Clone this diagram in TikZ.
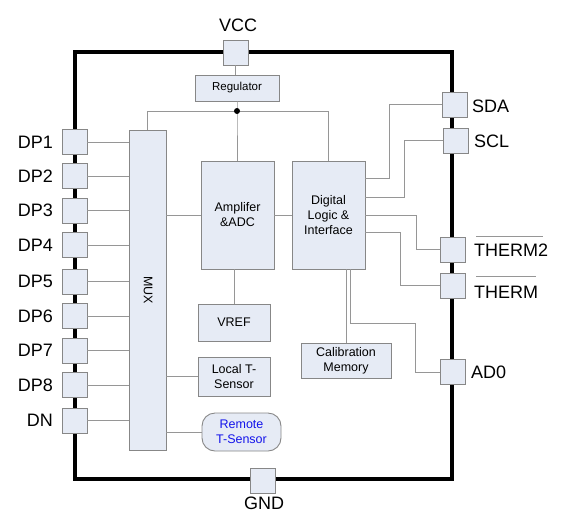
\documentclass[tikz,border=0pt]{standalone}
\usepackage{fontspec}
\setmainfont{Liberation Sans}
\definecolor{boxfill}{RGB}{230,235,245}
\definecolor{boxdraw}{RGB}{135,135,135}
\definecolor{wirec}{RGB}{150,150,150}
\definecolor{remblue}{RGB}{20,20,235}
\begin{document}
\begin{tikzpicture}[x=1pt,y=-1pt,
  pad/.style={draw=boxdraw,fill=boxfill,line width=0.9pt,minimum size=25pt,inner sep=0pt},
  blk/.style={draw=boxdraw,fill=boxfill,line width=0.9pt,inner sep=0pt,align=center,font=\fontsize{12.5}{15}\selectfont},
  wire/.style={draw=wirec,line width=1pt},
  lbl/.style={font=\fontsize{18}{20}\selectfont,inner sep=0pt},
  frame/.style={line width=3.2pt,black}]
\useasboundingbox (0,0) rectangle (561,523);
% frame
\draw[frame] (75,52) rectangle (452,479);
% blocks
\node[blk,minimum width=84pt,minimum height=26pt,font=\fontsize{11.5}{14}\selectfont] (reg) at (237,88) {Regulator};
\node[blk,minimum width=37pt,minimum height=320pt] (mux) at (147.5,290) {};
\node[rotate=-90,font=\fontsize{12.5}{15}\selectfont,inner sep=0pt] (muxt) at (148,290) {MUX};
\node[blk,minimum width=73pt,minimum height=108pt] (amp) at (237.5,215) {Amplifer\\\&ADC};
\node[blk,minimum width=73pt,minimum height=108pt] (dig) at (328.5,215) {Digital\\Logic \&\\Interface};
\node[blk,minimum width=72pt,minimum height=37pt] (vref) at (234,322.5) {VREF};
\node[blk,minimum width=72pt,minimum height=39pt] (lts) at (234,376.5) {Local T-\\Sensor};
\node[blk,minimum width=79pt,minimum height=38pt,rounded corners=13pt,text=remblue] (rts) at (241.5,432) {Remote\\T-Sensor};
\node[blk,minimum width=90pt,minimum height=35pt] (cal) at (346,360.5) {Calibration\\Memory};
% power wiring
\coordinate (dot) at (237,111);
\draw[wire] (reg.south) -- (dot) -- (amp.north -| dot);
\draw[wire] (dot) -- (147,111) -- (147,130);
\draw[wire] (dot) -- (328,111) -- (328,161);
\fill[black] (dot) circle (3pt);
% pads
\node[pad] (vcc) at (235.5,52.5) {};
\node[pad] (gnd) at (263,480.5) {};
\node[lbl,anchor=south] at (238,32) {VCC};
\node[lbl,anchor=north] at (264,497) {GND};
\draw[wire] (vcc.south) -- (vcc.south |- reg.north);
\foreach \n/\y/\t in {p1/142/DP1,p2/176/DP2,p3/210.5/DP3,p4/245/DP4,p5/281.5/DP5,p6/316/DP6,p7/350.5/DP7,p8/385/DP8,dn/420.5/DN}{
  \node[pad] (\n) at (74.5,\y) {};
  \node[lbl,anchor=east] at (53,\y) {\t};
  \draw[wire] (\n.east) -- (\n.east -| mux.west);
}
% mux to blocks
\draw[wire] (mux.east |- amp.west) -- (amp.west);
\draw[wire] (amp.east) -- (dig.west);
\draw[wire] (mux.east |- lts.west) -- (lts.west);
\draw[wire] (mux.east |- rts.west) -- (rts.west);
\draw[wire] (234,269) -- (vref.north);
\draw[wire] (dig.south -| cal.north) -- (cal.north);
% right pads
\node[pad] (sda) at (454.5,104.5) {};
\node[pad] (scl) at (456,140.5) {};
\node[pad] (th2) at (453,249.5) {};
\node[pad] (th) at (452.5,285.5) {};
\node[pad] (ad0) at (452.5,372) {};
\node[lbl,anchor=west] at (472,106) {SDA};
\node[lbl,anchor=west] at (474,141) {SCL};
\node[lbl,anchor=west] (th2l) at (474,250) {THERM2};
\node[lbl,anchor=west] (thl) at (474,292) {THERM};
\draw[wire,line width=0.8pt] (476,236) -- (543,236);
\draw[wire,line width=0.8pt] (476,276) -- (536,276);
% right wiring
\draw[wire] (365,178) -- (389,178) -- (389,104.5) -- (sda.west);
\draw[wire] (365,197) -- (404,197) -- (404,140.5) -- (scl.west);
\draw[wire] (365,215) -- (416,215) -- (416,249.5) -- (th2.west);
\draw[wire] (365,232) -- (400,232) -- (400,285.5) -- (th.west);
\draw[wire] (350,269) -- (350,323) -- (415,323) -- (415,372) -- (ad0.west);
\node[lbl,anchor=west] at (471,372) {AD0};
\end{tikzpicture}
\end{document}
